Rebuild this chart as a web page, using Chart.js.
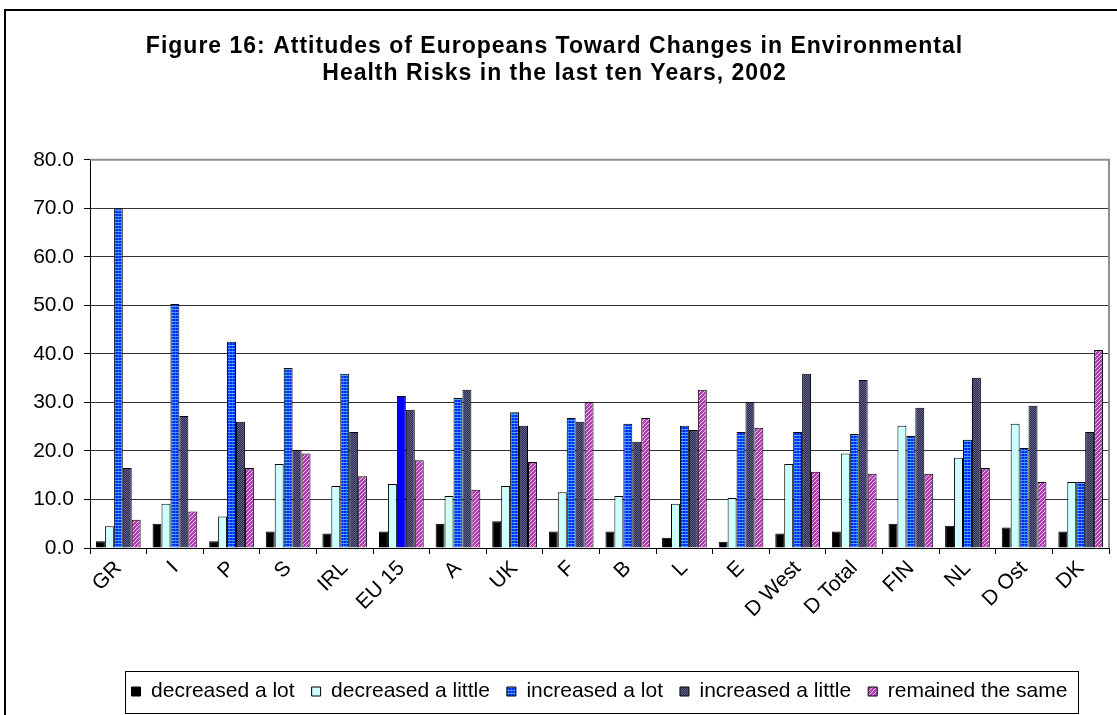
<!DOCTYPE html>
<html>
<head>
<meta charset="utf-8">
<script src="https://cdn.jsdelivr.net/npm/chart.js@4/dist/chart.umd.min.js"></script>
<style>
  html, body { margin: 0; padding: 0; background: #fff; }
  #wrap { width: 1117px; height: 715px; position: relative; }
</style>
</head>
<body>
<div id="wrap"><canvas id="chart"></canvas></div>
<script>
const countries = ["GR", "I", "P", "S", "IRL", "EU 15", "A", "UK", "F", "B", "L", "E",
  "D West", "D Total", "FIN", "NL", "D Ost", "DK"];
const decreasedLot = [1.4, 5.0, 1.4, 3.4, 3.0, 3.4, 5.0, 5.5, 3.4, 3.4, 2.1, 1.3, 3.0, 3.4, 5.0, 4.6, 4.2, 3.4];
const decreasedLittle = [4.5, 9.1, 6.5, 17.3, 12.8, 13.2, 10.7, 12.8, 11.5, 10.7, 9.1, 10.3, 17.3, 19.5, 25.2, 18.6, 25.6, 13.6];
const increasedLot = [70.0, 50.3, 42.5, 37.1, 35.9, 31.3, 30.9, 28.0, 26.8, 25.6, 25.2, 23.9, 23.9, 23.5, 23.1, 22.3, 20.6, 13.6];
const increasedLittle = [16.5, 27.2, 26.0, 20.2, 23.9, 28.5, 32.6, 25.2, 26.0, 21.9, 24.3, 30.1, 35.9, 34.6, 28.9, 35.1, 29.3, 23.9];
const remainedSame = [5.8, 7.5, 16.5, 19.5, 14.8, 18.1, 12.0, 17.7, 30.1, 26.8, 32.6, 24.8, 15.7, 15.3, 15.3, 16.5, 13.6, 40.8];
const yTicks = [0, 10, 20, 30, 40, 50, 60, 70, 80];

const FONT = "'Liberation Sans', Arial, sans-serif";

// small fill patterns like the old excel ones
function makePattern(size, draw) {
  const c = document.createElement("canvas");
  c.width = size;
  c.height = size;
  const g = c.getContext("2d");
  draw(g);
  return g.createPattern(c, "repeat");
}

const bluePattern = makePattern(3, g => {
  g.fillStyle = "#0022ff";
  g.fillRect(0, 0, 3, 3);
  g.fillStyle = "#1166ff";
  g.fillRect(1, 0, 1, 3);
  g.fillStyle = "#44aaff";
  g.fillRect(0, 0, 3, 1);
});
const darkPattern = makePattern(2, g => {
  g.fillStyle = "#2e2e4e";
  g.fillRect(0, 0, 2, 2);
  g.fillStyle = "#5e5e8e";
  g.fillRect(0, 0, 1, 1);
  g.fillRect(1, 1, 1, 1);
});
const pinkPattern = makePattern(4, g => {
  g.fillStyle = "#b040b0";
  g.fillRect(0, 0, 4, 4);
  g.fillStyle = "#f8c8f8";
  for (let i = 0; i < 4; i++) g.fillRect(3 - i, i, 1, 1);
});

const bars = [
  {label: "decreased a lot", data: decreasedLot, fill: "#000000"},
  {label: "decreased a little", data: decreasedLittle, fill: "#ccffff"},
  {label: "increased a lot", data: increasedLot, fill: bluePattern},
  {label: "increased a little", data: increasedLittle, fill: darkPattern},
  {label: "remained the same", data: remainedSame, fill: pinkPattern},
];

const datasets = bars.map((b, i) => ({
  label: b.label,
  data: b.data,
  // EU 15 "increased a lot" is a plain blue bar in the original
  backgroundColor: i === 2
    ? (ctx => (ctx.type === "data" && countries[ctx.dataIndex] === "EU 15") ? "#0000ff" : bluePattern)
    : b.fill,
  borderColor: "#000000",
  borderWidth: 1,
  borderSkipped: "bottom",
  barPercentage: 1.0,
  categoryPercentage: 0.79,
}));

const LEGEND_SHIFT = 45;

const framePlugin = {
  id: "frame",
  afterLayout(chart) {
    // title in the original is a bit spaced out
    const tb = chart.titleBlock;
    if (tb && !tb._spaced) {
      const orig = tb.draw.bind(tb);
      tb.draw = function () {
        const c = chart.ctx;
        const old = c.letterSpacing;
        c.letterSpacing = "1px";
        orig();
        c.letterSpacing = old || "0px";
      };
      tb._spaced = true;
    }
    // legend sits a bit right of centre in the original
    const lg = chart.legend;
    if (lg && lg.legendHitBoxes) {
      lg.left += LEGEND_SHIFT;
      lg.right += LEGEND_SHIFT;
      lg.legendHitBoxes.forEach(h => { h.left += LEGEND_SHIFT; });
    }
  },
  beforeDraw(chart) {
    const c = chart.ctx;
    c.save();
    c.fillStyle = "#ffffff";
    c.fillRect(0, 0, chart.width, chart.height);
    c.strokeStyle = "#000000";
    c.lineWidth = 2;
    c.beginPath();
    c.moveTo(5, chart.height + 5);
    c.lineTo(5, 10);
    c.lineTo(chart.width + 5, 10);
    c.stroke();
    c.restore();
  },
  beforeDatasetsDraw(chart) {
    const a = chart.chartArea;
    const c = chart.ctx;
    c.save();
    c.strokeStyle = "#909090";
    c.lineWidth = 2;
    c.beginPath();
    c.moveTo(a.left, a.top);
    c.lineTo(a.right, a.top);
    c.lineTo(a.right, a.bottom);
    c.stroke();
    c.restore();
  },
  afterDraw(chart) {
    const lg = chart.legend;
    if (!lg || !lg.legendHitBoxes || !lg.legendHitBoxes.length) return;
    const hb = lg.legendHitBoxes;
    const first = hb[0];
    const last = hb[hb.length - 1];
    const mid = first.top + first.height / 2;
    const c = chart.ctx;
    c.save();
    c.strokeStyle = "#000000";
    c.lineWidth = 1;
    c.strokeRect(Math.round(first.left - 7) + 0.5, Math.round(mid - 21) + 0.5,
      Math.round(last.left + last.width - first.left + 17), 42);
    c.restore();
  },
};

new Chart(document.getElementById("chart"), {
  type: "bar",
  data: {
    labels: countries,
    datasets: datasets,
  },
  plugins: [framePlugin],
  options: {
    responsive: true,
    maintainAspectRatio: false,
    animation: false,
    layout: {
      padding: {top: 0, right: 8, bottom: 3, left: 0},
    },
    plugins: {
      title: {
        display: true,
        text: ["Figure 16: Attitudes of Europeans Toward Changes in Environmental",
          "Health Risks in the last ten Years, 2002"],
        color: "#000000",
        font: {family: FONT, size: 23, weight: "bold", lineHeight: 1.17},
        padding: {top: 33, bottom: 73},
      },
      legend: {
        position: "bottom",
        labels: {
          color: "#000000",
          font: {family: FONT, size: 21},
          boxWidth: 9,
          boxHeight: 9,
          padding: 17,
        },
      },
      tooltip: {enabled: false},
    },
    scales: {
      x: {
        afterFit(scale) {
          scale.height = 116;
        },
        grid: {
          offset: true,
          drawOnChartArea: false,
          drawTicks: true,
          tickLength: 6,
          color: "#000000",
        },
        border: {display: true, color: "#000000", width: 1},
        ticks: {
          color: "#000000",
          font: {family: FONT, size: 21},
          maxRotation: 45,
          minRotation: 45,
          autoSkip: false,
          padding: 2,
        },
      },
      y: {
        min: 0,
        max: 80,
        afterFit(scale) {
          scale.width = 90;
        },
        afterBuildTicks(scale) {
          scale.ticks = yTicks.map(v => ({value: v}));
        },
        grid: {
          color: "#333333",
          lineWidth: 1,
          drawTicks: true,
          tickLength: 6,
          tickColor: "#000000",
        },
        border: {display: true, color: "#000000", width: 1},
        ticks: {
          color: "#000000",
          font: {family: FONT, size: 21},
          padding: 10,
          callback: v => Number(v).toFixed(1),
        },
      },
    },
  },
});
</script>
</body>
</html>
